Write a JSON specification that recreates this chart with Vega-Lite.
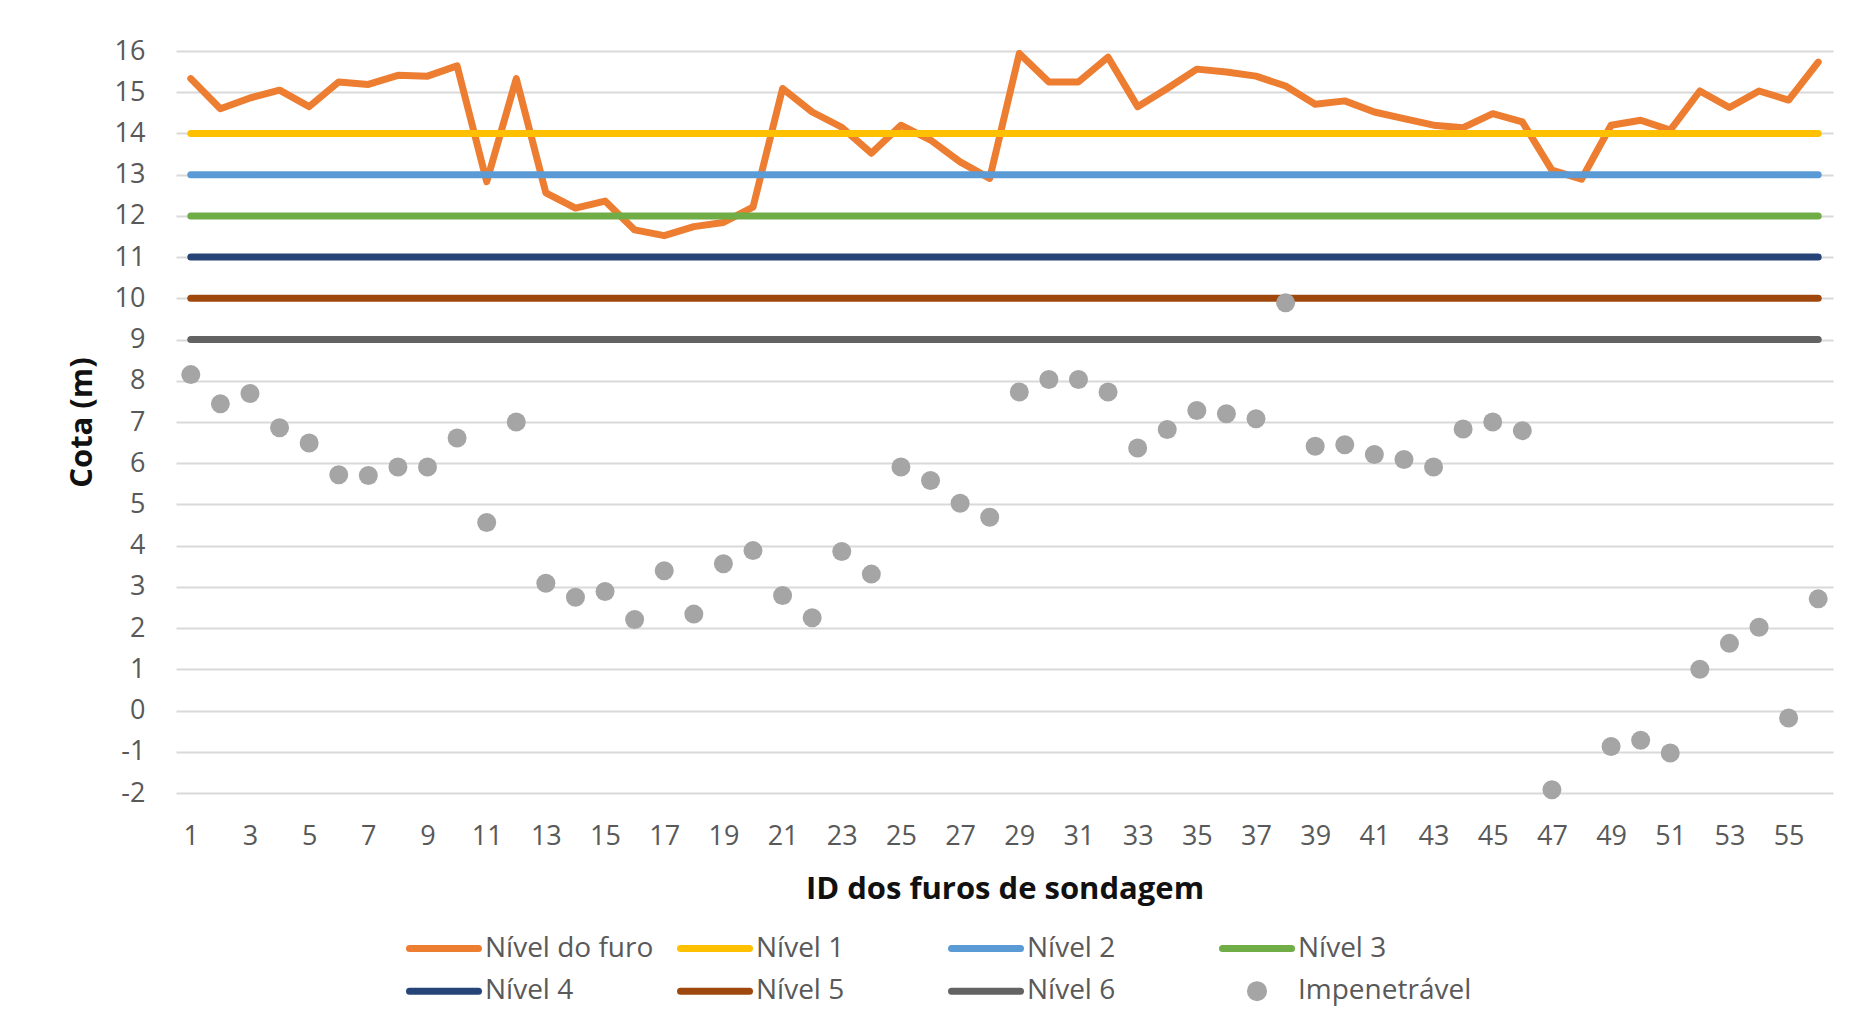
{
  "$schema": "https://vega.github.io/schema/vega-lite/v6.json",
  "autosize": {"type": "none"},
  "width": 1657,
  "height": 742,
  "padding": {"left": 176, "top": 51, "right": 23, "bottom": 241},
  "background": "#ffffff",
  "config": {
    "font": "Open Sans",
    "view": {"stroke": null}
  },
  "datasets": {
    "furo": [
      {"id": 1, "serie": "Nível do furo", "cota": 15.33},
      {"id": 2, "serie": "Nível do furo", "cota": 14.60},
      {"id": 3, "serie": "Nível do furo", "cota": 14.86},
      {"id": 4, "serie": "Nível do furo", "cota": 15.05},
      {"id": 5, "serie": "Nível do furo", "cota": 14.65},
      {"id": 6, "serie": "Nível do furo", "cota": 15.25},
      {"id": 7, "serie": "Nível do furo", "cota": 15.19},
      {"id": 8, "serie": "Nível do furo", "cota": 15.41},
      {"id": 9, "serie": "Nível do furo", "cota": 15.39},
      {"id": 10, "serie": "Nível do furo", "cota": 15.64},
      {"id": 11, "serie": "Nível do furo", "cota": 12.83},
      {"id": 12, "serie": "Nível do furo", "cota": 15.33},
      {"id": 13, "serie": "Nível do furo", "cota": 12.56},
      {"id": 14, "serie": "Nível do furo", "cota": 12.19},
      {"id": 15, "serie": "Nível do furo", "cota": 12.36},
      {"id": 16, "serie": "Nível do furo", "cota": 11.66},
      {"id": 17, "serie": "Nível do furo", "cota": 11.52},
      {"id": 18, "serie": "Nível do furo", "cota": 11.74},
      {"id": 19, "serie": "Nível do furo", "cota": 11.84},
      {"id": 20, "serie": "Nível do furo", "cota": 12.21},
      {"id": 21, "serie": "Nível do furo", "cota": 15.09},
      {"id": 22, "serie": "Nível do furo", "cota": 14.52},
      {"id": 23, "serie": "Nível do furo", "cota": 14.15},
      {"id": 24, "serie": "Nível do furo", "cota": 13.52},
      {"id": 25, "serie": "Nível do furo", "cota": 14.20},
      {"id": 26, "serie": "Nível do furo", "cota": 13.84},
      {"id": 27, "serie": "Nível do furo", "cota": 13.31},
      {"id": 28, "serie": "Nível do furo", "cota": 12.91},
      {"id": 29, "serie": "Nível do furo", "cota": 15.94},
      {"id": 30, "serie": "Nível do furo", "cota": 15.25},
      {"id": 31, "serie": "Nível do furo", "cota": 15.25},
      {"id": 32, "serie": "Nível do furo", "cota": 15.85},
      {"id": 33, "serie": "Nível do furo", "cota": 14.65},
      {"id": 34, "serie": "Nível do furo", "cota": 15.09},
      {"id": 35, "serie": "Nível do furo", "cota": 15.56},
      {"id": 36, "serie": "Nível do furo", "cota": 15.49},
      {"id": 37, "serie": "Nível do furo", "cota": 15.39},
      {"id": 38, "serie": "Nível do furo", "cota": 15.15},
      {"id": 39, "serie": "Nível do furo", "cota": 14.71},
      {"id": 40, "serie": "Nível do furo", "cota": 14.79},
      {"id": 41, "serie": "Nível do furo", "cota": 14.52},
      {"id": 42, "serie": "Nível do furo", "cota": 14.36},
      {"id": 43, "serie": "Nível do furo", "cota": 14.20},
      {"id": 44, "serie": "Nível do furo", "cota": 14.14},
      {"id": 45, "serie": "Nível do furo", "cota": 14.48},
      {"id": 46, "serie": "Nível do furo", "cota": 14.28},
      {"id": 47, "serie": "Nível do furo", "cota": 13.11},
      {"id": 48, "serie": "Nível do furo", "cota": 12.89},
      {"id": 49, "serie": "Nível do furo", "cota": 14.20},
      {"id": 50, "serie": "Nível do furo", "cota": 14.32},
      {"id": 51, "serie": "Nível do furo", "cota": 14.08},
      {"id": 52, "serie": "Nível do furo", "cota": 15.03},
      {"id": 53, "serie": "Nível do furo", "cota": 14.63},
      {"id": 54, "serie": "Nível do furo", "cota": 15.03},
      {"id": 55, "serie": "Nível do furo", "cota": 14.81},
      {"id": 56, "serie": "Nível do furo", "cota": 15.73}
    ],
    "niveis": [
      {"id": 1, "serie": "Nível 1", "cota": 14},
      {"id": 56, "serie": "Nível 1", "cota": 14},
      {"id": 1, "serie": "Nível 2", "cota": 13},
      {"id": 56, "serie": "Nível 2", "cota": 13},
      {"id": 1, "serie": "Nível 3", "cota": 12},
      {"id": 56, "serie": "Nível 3", "cota": 12},
      {"id": 1, "serie": "Nível 4", "cota": 11},
      {"id": 56, "serie": "Nível 4", "cota": 11},
      {"id": 1, "serie": "Nível 5", "cota": 10},
      {"id": 56, "serie": "Nível 5", "cota": 10},
      {"id": 1, "serie": "Nível 6", "cota": 9},
      {"id": 56, "serie": "Nível 6", "cota": 9}
    ],
    "impenetravel": [
      {"id": 1, "serie": "Impenetrável", "cota": 8.15},
      {"id": 2, "serie": "Impenetrável", "cota": 7.44},
      {"id": 3, "serie": "Impenetrável", "cota": 7.69},
      {"id": 4, "serie": "Impenetrável", "cota": 6.86},
      {"id": 5, "serie": "Impenetrável", "cota": 6.49},
      {"id": 6, "serie": "Impenetrável", "cota": 5.72},
      {"id": 7, "serie": "Impenetrável", "cota": 5.70},
      {"id": 8, "serie": "Impenetrável", "cota": 5.91},
      {"id": 9, "serie": "Impenetrável", "cota": 5.91},
      {"id": 10, "serie": "Impenetrável", "cota": 6.61},
      {"id": 11, "serie": "Impenetrável", "cota": 4.56},
      {"id": 12, "serie": "Impenetrável", "cota": 7.00},
      {"id": 13, "serie": "Impenetrável", "cota": 3.09},
      {"id": 14, "serie": "Impenetrável", "cota": 2.75},
      {"id": 15, "serie": "Impenetrável", "cota": 2.89},
      {"id": 16, "serie": "Impenetrável", "cota": 2.21},
      {"id": 17, "serie": "Impenetrável", "cota": 3.39},
      {"id": 18, "serie": "Impenetrável", "cota": 2.34},
      {"id": 19, "serie": "Impenetrável", "cota": 3.56},
      {"id": 20, "serie": "Impenetrável", "cota": 3.88},
      {"id": 21, "serie": "Impenetrável", "cota": 2.79},
      {"id": 22, "serie": "Impenetrável", "cota": 2.25},
      {"id": 23, "serie": "Impenetrável", "cota": 3.86},
      {"id": 24, "serie": "Impenetrável", "cota": 3.31},
      {"id": 25, "serie": "Impenetrável", "cota": 5.91},
      {"id": 26, "serie": "Impenetrável", "cota": 5.58},
      {"id": 27, "serie": "Impenetrável", "cota": 5.03},
      {"id": 28, "serie": "Impenetrável", "cota": 4.69},
      {"id": 29, "serie": "Impenetrável", "cota": 7.73},
      {"id": 30, "serie": "Impenetrável", "cota": 8.03},
      {"id": 31, "serie": "Impenetrável", "cota": 8.03},
      {"id": 32, "serie": "Impenetrável", "cota": 7.73},
      {"id": 33, "serie": "Impenetrável", "cota": 6.37},
      {"id": 34, "serie": "Impenetrável", "cota": 6.82},
      {"id": 35, "serie": "Impenetrável", "cota": 7.28},
      {"id": 36, "serie": "Impenetrável", "cota": 7.20},
      {"id": 37, "serie": "Impenetrável", "cota": 7.08},
      {"id": 38, "serie": "Impenetrável", "cota": 9.89},
      {"id": 39, "serie": "Impenetrável", "cota": 6.41},
      {"id": 40, "serie": "Impenetrável", "cota": 6.45},
      {"id": 41, "serie": "Impenetrável", "cota": 6.21},
      {"id": 42, "serie": "Impenetrável", "cota": 6.09},
      {"id": 43, "serie": "Impenetrável", "cota": 5.91},
      {"id": 44, "serie": "Impenetrável", "cota": 6.83},
      {"id": 45, "serie": "Impenetrável", "cota": 7.00},
      {"id": 46, "serie": "Impenetrável", "cota": 6.79},
      {"id": 47, "serie": "Impenetrável", "cota": -1.92},
      {"id": 49, "serie": "Impenetrável", "cota": -0.87},
      {"id": 50, "serie": "Impenetrável", "cota": -0.72},
      {"id": 51, "serie": "Impenetrável", "cota": -1.03},
      {"id": 52, "serie": "Impenetrável", "cota": 1.00},
      {"id": 53, "serie": "Impenetrável", "cota": 1.63},
      {"id": 54, "serie": "Impenetrável", "cota": 2.02},
      {"id": 55, "serie": "Impenetrável", "cota": -0.18},
      {"id": 56, "serie": "Impenetrável", "cota": 2.71}
    ]
  },
  "encoding": {
    "x": {
      "field": "id",
      "type": "quantitative",
      "scale": {"domain": [0.5, 56.5], "nice": false, "zero": false},
      "axis": {
        "title": "ID dos furos de sondagem",
        "values": [1, 3, 5, 7, 9, 11, 13, 15, 17, 19, 21, 23, 25, 27, 29, 31, 33, 35, 37, 39, 41, 43, 45, 47, 49, 51, 53, 55],
        "format": "d",
        "grid": false,
        "domain": false,
        "ticks": false,
        "labelFontSize": 27,
        "labelColor": "#595959",
        "labelPadding": 30,
        "titleFontSize": 31,
        "titleFontWeight": "bold",
        "titleColor": "#111111",
        "titlePadding": 25
      }
    },
    "y": {
      "field": "cota",
      "type": "quantitative",
      "scale": {"domain": [-2, 16], "nice": false, "zero": false},
      "axis": {
        "title": "Cota (m)",
        "values": [-2, -1, 0, 1, 2, 3, 4, 5, 6, 7, 8, 9, 10, 11, 12, 13, 14, 15, 16],
        "labelExpr": "'' + datum.value",
        "grid": true,
        "gridColor": "#D9D9D9",
        "gridWidth": 2,
        "domain": false,
        "ticks": false,
        "labelFontSize": 27,
        "labelColor": "#595959",
        "labelPadding": 31,
        "titleFontSize": 31,
        "titleFontWeight": "bold",
        "titleColor": "#111111",
        "titlePadding": 16
      }
    },
    "color": {
      "field": "serie",
      "type": "nominal",
      "scale": {
        "domain": ["Nível do furo", "Nível 1", "Nível 2", "Nível 3", "Nível 4", "Nível 5", "Nível 6", "Impenetrável"],
        "range": ["#ED7D31", "#FFC000", "#5B9BD5", "#70AD47", "#264478", "#9E480E", "#636363", "#A5A5A5"]
      },
      "legend": {
        "title": null,
        "orient": "none",
        "legendX": 230,
        "legendY": 882.5,
        "direction": "horizontal",
        "columns": 4,
        "gridAlign": "all",
        "columnPadding": 18,
        "rowPadding": 12.7,
        "clipHeight": 30,
        "padding": 0,
        "labelFontSize": 28,
        "labelColor": "#595959",
        "labelLimit": 400,
        "labelOffset": 3,
        "symbolType": "stroke",
        "symbolSize": 4761,
        "symbolStrokeWidth": 7,
        "encode": {
          "symbols": {
            "update": {
              "shape": {"signal": "datum.value === 'Impenetrável' ? 'M0.19,0A0.19,0.19 0 1,1 -0.19,0A0.19,0.19 0 1,1 0.19,0Z' : 'stroke'"},
              "size": {"value": 4761},
              "strokeWidth": {"value": 7},
              "fill": {"scale": "color", "field": "value"},
              "stroke": {"scale": "color", "field": "value"},
              "strokeCap": {"value": "round"},
              "opacity": {"value": 1}
            }
          }
        }
      }
    }
  },
  "layer": [
    {
      "data": {"name": "furo"},
      "mark": {"type": "line", "strokeWidth": 7, "strokeJoin": "round", "strokeCap": "round"}
    },
    {
      "data": {"name": "niveis"},
      "mark": {"type": "line", "strokeWidth": 7, "strokeCap": "round"}
    },
    {
      "data": {"name": "impenetravel"},
      "mark": {"type": "point", "shape": "circle", "filled": true, "size": 361, "opacity": 1}
    }
  ]
}
